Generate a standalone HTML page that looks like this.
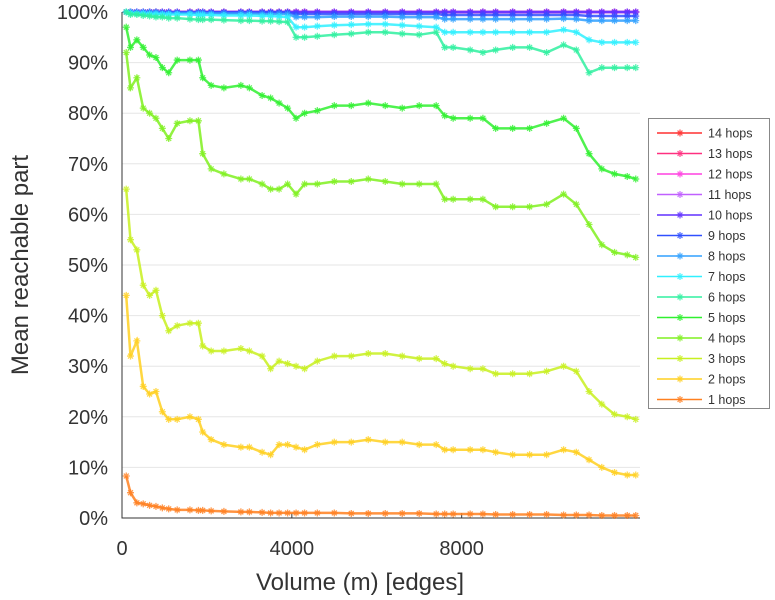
<!DOCTYPE html>
<html><head><meta charset="utf-8"><style>
body{margin:0;background:#fff;}
svg{display:block;font-family:"Liberation Sans",sans-serif;}
</style></head><body>
<svg id="chart" width="775" height="600"></svg>
<script>
const xs = [100,200,350,500,650,800,950,1100,1300,1600,1800,1900,2100,2400,2800,3000,3300,3500,3700,3900,4100,4300,4600,5000,5400,5800,6200,6600,7000,7400,7600,7800,8200,8500,8800,9200,9600,10000,10400,10700,11000,11300,11600,11900,12100];
const s1 = [8.3,5,3,2.8,2.5,2.3,2,1.8,1.6,1.6,1.5,1.5,1.4,1.3,1.2,1.2,1.1,1,1,1,1,1,1,1,0.9,0.9,0.9,0.9,0.9,0.8,0.8,0.8,0.8,0.8,0.7,0.7,0.7,0.7,0.6,0.6,0.6,0.5,0.5,0.5,0.5];
const s2 = [44,32,35,26,24.5,25,21,19.5,19.5,20,19.5,17,15.5,14.5,14,14,13,12.5,14.5,14.5,14,13.5,14.5,15,15,15.5,15,15,14.5,14.5,13.5,13.5,13.5,13.5,13,12.5,12.5,12.5,13.5,13,11.5,10,9,8.5,8.5];
const s3 = [65,55,53,46,44,45,40,37,38,38.5,38.5,34,33,33,33.5,33,32,29.5,31,30.5,30,29.5,31,32,32,32.5,32.5,32,31.5,31.5,30.5,30,29.5,29.5,28.5,28.5,28.5,29,30,29,25,22.5,20.5,20,19.5];
const s4 = [92,85,87,81,80,79,77,75,78,78.5,78.5,72,69,68,67,67,66,65,65,66,64,66,66,66.5,66.5,67,66.5,66,66,66,63,63,63,63,61.5,61.5,61.5,62,64,62,58,54,52.5,52,51.5];
const s5 = [97,93,94.5,93,91.5,91,89,88,90.5,90.5,90.5,87,85.5,85,85.5,85,83.5,83,82,81,79,80,80.5,81.5,81.5,82,81.5,81,81.5,81.5,79.5,79,79,79,77,77,77,78,79,77,72,69,68,67.5,67];
const s6 = [100,99.5,99.5,99.3,99.2,99,99,98.8,98.8,98.6,98.5,98.5,98.5,98.4,98.3,98.3,98.2,98.2,98.1,98,95,95,95.2,95.5,95.7,96,96,95.7,95.5,96,93,93,92.5,92,92.5,93,93,92,93.5,92.5,88,89,89,89,89];
const s7 = [100,99.8,99.7,99.7,99.6,99.6,99.5,99.5,99.5,99.5,99.4,99.4,99.4,99.3,99.3,99.3,99.2,99.2,99.1,99,97,97,97.2,97.4,97.5,97.6,97.6,97.4,97.2,97,96,96,96,96,96,96,96,96,96.5,96,94.5,94,94,94,94];
const s8 = [100,100,99.9,99.9,99.9,99.9,99.8,99.8,99.8,99.8,99.8,99.8,99.7,99.7,99.7,99.7,99.6,99.6,99.6,99.6,99,99,99,99.1,99.1,99.1,99.1,99,99,99,98.6,98.6,98.6,98.6,98.6,98.6,98.6,98.6,98.7,98.6,98.3,98.3,98.3,98.3,98.3];
const s9 = [100,100,100,100,100,100,99.9,99.9,99.9,99.9,99.9,99.9,99.9,99.9,99.9,99.9,99.9,99.9,99.9,99.9,99.6,99.6,99.6,99.6,99.6,99.6,99.6,99.6,99.6,99.6,99.4,99.4,99.4,99.4,99.4,99.4,99.4,99.4,99.4,99.4,99.2,99.2,99.2,99.2,99.2];
const s10 = xs.map(()=>100);
const s11 = xs.map(()=>100);
const s12 = xs.map(()=>100);
const s13 = xs.map(()=>100);
const s14 = xs.map(()=>100);
const seriesValues = [s1,s2,s3,s4,s5,s6,s7,s8,s9,s10,s11,s12,s13,s14];
const seriesNames = ["1 hops","2 hops","3 hops","4 hops","5 hops","6 hops","7 hops","8 hops","9 hops","10 hops","11 hops","12 hops","13 hops","14 hops"];
const seriesColors = ["#ff8020","#ffd020","#c8f020","#80f020","#30f030","#30f0a0","#30f0ff","#30a0ff","#3050ff","#6030ff","#c060ff","#ff40e0","#ff3080","#ff3030"];
const yTicks = [0,10,20,30,40,50,60,70,80,90,100];
const xTicks = [0,4000,8000];

const NS="http://www.w3.org/2000/svg";
const svg=document.getElementById('chart');
const L=122,R=640,T=12,B=518,XMAX=12200;
const xScale=v=>L+v/XMAX*(R-L);
const yScale=v=>B-v/100*(B-T);
function mk(tag,attrs,parent){const e=document.createElementNS(NS,tag);for(const k in attrs)e.setAttribute(k,attrs[k]);(parent||svg).appendChild(e);return e;}

yTicks.forEach(t=>{
  const g=mk('line',{x1:L,x2:R,y1:yScale(t),y2:yScale(t),stroke:'#e6e6e6','stroke-width':1});
  
  
  const tx=mk('text',{x:108,y:yScale(t)+7,'text-anchor':'end','font-size':20,fill:'#333'});
  tx.textContent=t+'%';
  
  
});
xTicks.forEach(t=>{
  const tk=mk('line',{x1:xScale(t),x2:xScale(t),y1:B,y2:B-5,stroke:'#333'});
  
  
  const tx=mk('text',{x:xScale(t),y:555,'text-anchor':'middle','font-size':20,fill:'#333'});
  tx.textContent=t;
  
  
});
const ax=mk('path',{d:`M${L},${T} V${B} H${R}`,fill:'none',stroke:'#333','stroke-width':1});



function star(g,x,y,c){
  const s=3.5;
  mk('path',{d:`M${x-s},${y}H${x+s}M${x},${y-s}V${y+s}M${x-s*0.7},${y-s*0.7}L${x+s*0.7},${y+s*0.7}M${x-s*0.7},${y+s*0.7}L${x+s*0.7},${y-s*0.7}`,stroke:c,'stroke-width':1.3,fill:'none','stroke-opacity':0.8},g);
}
for(let i=seriesValues.length-1;i>=0;i--){
  const vals=seriesValues[i];
  const g=mk('g',{});
  
  
  const d=vals.map((v,j)=>(j?'L':'M')+xScale(xs[j]).toFixed(1)+','+yScale(v).toFixed(1)).join('');
  mk('path',{d:d,fill:'none',stroke:seriesColors[i],'stroke-width':2.5,'stroke-opacity':0.85},g);
  vals.forEach((v,j)=>star(g,xScale(xs[j]),yScale(v),seriesColors[i]));
}

const lg=mk('g',{});


mk('rect',{x:648.5,y:118.5,width:121,height:290,fill:'#fff',stroke:'#888'},lg);
for(let k=0;k<14;k++){
  const i=13-k;const y=133+k*20.5;
  const e=mk('g',{},lg);
  
  
  mk('line',{x1:657,x2:702,y1:y,y2:y,stroke:seriesColors[i],'stroke-width':1.5},e);
  star(e,680,y,seriesColors[i]);
  const t=mk('text',{x:708,y:y+4.5,'font-size':12.5,fill:'#333'},e);
  t.textContent=seriesNames[i];
}
const xt=mk('text',{x:360,y:590,'text-anchor':'middle','font-size':24,fill:'#333'});
xt.textContent='Volume (m) [edges]';


const yt=mk('text',{x:0,y:0,'text-anchor':'middle','font-size':24,fill:'#333',transform:'translate(28,265) rotate(-90)'});
yt.textContent='Mean reachable part';


</script>
</body></html>
